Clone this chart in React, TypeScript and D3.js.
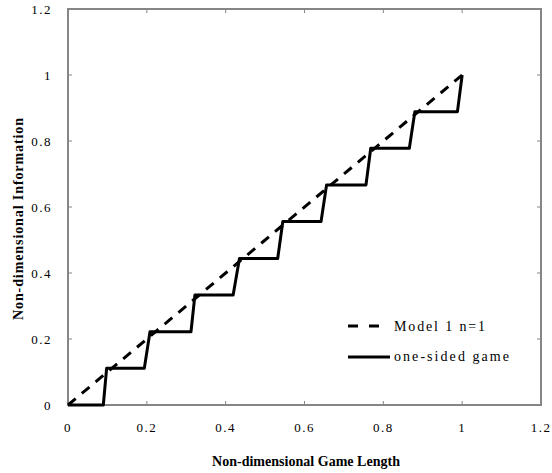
import React from "react";
import * as d3 from "d3";

const xTicks = [0, 0.2, 0.4, 0.6, 0.8, 1, 1.2];
const yTicks = [0, 0.2, 0.4, 0.6, 0.8, 1, 1.2];
const xTickLabels = ["0", "0.2", "0.4", "0.6", "0.8", "1", "1.2"];
const yTickLabels = ["0", "0.2", "0.4", "0.6", "0.8", "1", "1.2"];

const modelX = [0, 1];
const modelY = [0, 1];

const gameX = [0, 0.0896, 0.098, 0.1936, 0.208, 0.312, 0.322, 0.419, 0.435, 0.532, 0.545, 0.642, 0.656, 0.756, 0.768, 0.866, 0.88, 0.988, 1.0];
const gameY = [0, 0, 0.111, 0.111, 0.222, 0.222, 0.333, 0.333, 0.444, 0.444, 0.556, 0.556, 0.667, 0.667, 0.778, 0.778, 0.889, 0.889, 1.0];

const seriesNames = ["Model 1 n=1", "one-sided game"];

const W = 552;
const H = 473;
const left = 68, right = 541, top = 9, bottom = 405;

export default function App() {
  const x = d3.scaleLinear().domain([0, 1.2]).range([left, right]);
  const y = d3.scaleLinear().domain([0, 1.2]).range([bottom, top]);
  const line = d3.line<[number, number]>().x(d => x(d[0])).y(d => y(d[1]));
  const modelPts = modelX.map((v, i) => [v, modelY[i]] as [number, number]);
  const gamePts = gameX.map((v, i) => [v, gameY[i]] as [number, number]);
  const font = "'Liberation Serif', 'DejaVu Serif', serif";
  const gray = "#868686";
  return (
    <svg width={W} height={H} style={{ position: "absolute", left: 0, top: 0, background: "#fff", fontFamily: font }}>
      <rect x={0} y={0} width={W} height={H} fill="#fff" />
      <rect x={left} y={top} width={right - left} height={bottom - top} fill="none" stroke={gray} strokeWidth={2} />
      {xTicks.map((t, i) => (
        <g key={"xt" + i}>
          <line x1={x(t)} x2={x(t)} y1={bottom} y2={bottom - 4} stroke={gray} strokeWidth={1} />
          <line x1={x(t)} x2={x(t)} y1={top} y2={top + 4} stroke={gray} strokeWidth={1} />
          <text x={x(t)} y={432} textAnchor="middle" fontSize={13} letterSpacing={1.5}>{xTickLabels[i]}</text>
        </g>
      ))}
      {yTicks.map((t, i) => (
        <g key={"yt" + i}>
          <line x1={left} x2={left + 4} y1={y(t)} y2={y(t)} stroke={gray} strokeWidth={1} />
          <line x1={right} x2={right - 4} y1={y(t)} y2={y(t)} stroke={gray} strokeWidth={1} />
          <text x={52} y={y(t) + 5} textAnchor="end" fontSize={13} letterSpacing={1.5}>{yTickLabels[i]}</text>
        </g>
      ))}
      <path d={line(modelPts) || ""} fill="none" stroke="#000" strokeWidth={3} strokeDasharray="10,8" />
      <path d={line(gamePts) || ""} fill="none" stroke="#000" strokeWidth={3} strokeLinejoin="round" />
      <line x1={348} x2={380} y1={326} y2={326} stroke="#000" strokeWidth={3} strokeDasharray="10,11" />
      <text x={394} y={331} fontSize={14} textLength={91} lengthAdjust="spacing">{seriesNames[0]}</text>
      <line x1={348} x2={390} y1={357} y2={357} stroke="#000" strokeWidth={3} />
      <text x={394} y={361} fontSize={14} textLength={115} lengthAdjust="spacing">{seriesNames[1]}</text>
      <text x={212} y={466} fontSize={14} fontWeight="bold" textLength={188} lengthAdjust="spacing">Non-dimensional Game Length</text>
      <text transform={`translate(23,320) rotate(-90)`} fontSize={14} fontWeight="bold" textLength={202} lengthAdjust="spacing">Non-dimensional Information</text>
    </svg>
  );
}
